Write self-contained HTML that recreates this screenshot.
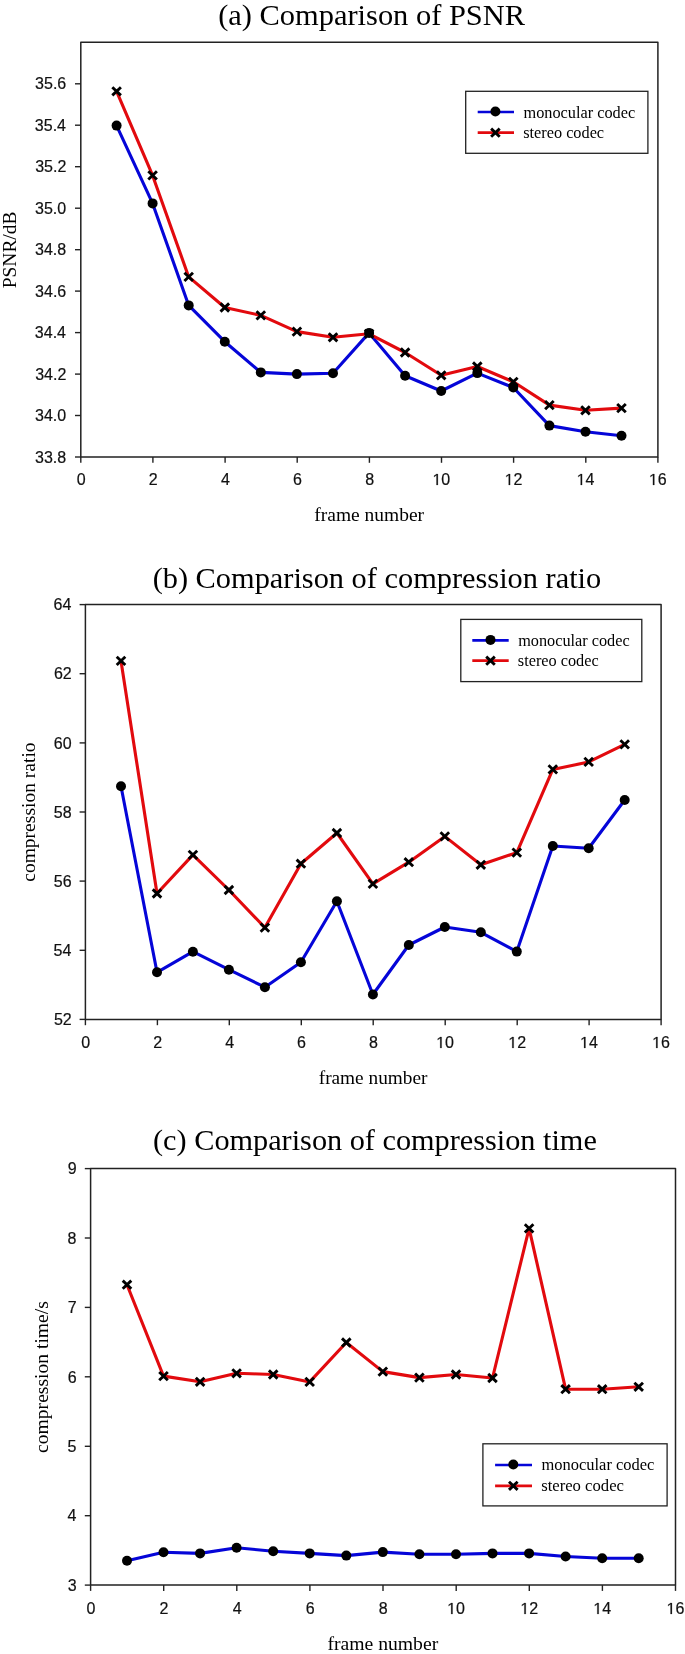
<!DOCTYPE html><html><head><meta charset="utf-8"><title>Comparison charts</title><style>html,body{margin:0;padding:0;background:#fff;}svg{display:block;filter:blur(0.35px);}.t{font-family:"Liberation Sans",sans-serif;font-size:16px;fill:#111;stroke:#111;stroke-width:0.2px;}.h{fill:none;stroke:none;}.s{font-family:"Liberation Serif",serif;fill:#000;}</style></head><body>
<svg width="685" height="1654" viewBox="0 0 685 1654">
<rect width="685" height="1654" fill="#fff"/>
<rect x="80.8" y="42.3" width="577.1" height="414.7" fill="none" stroke="#222" stroke-width="1.5" stroke-linejoin="round"/>
<g>
<line x1="80.8" y1="457" x2="80.8" y2="462.8" stroke="#222" stroke-width="1.4"/>
<text class="t" x="76.66" y="485.00">0</text>
<line x1="152.9" y1="457" x2="152.9" y2="462.8" stroke="#222" stroke-width="1.4"/>
<text class="t" x="148.80" y="485.00">2</text>
<line x1="225.1" y1="457" x2="225.1" y2="462.8" stroke="#222" stroke-width="1.4"/>
<text class="t" x="220.97" y="485.00">4</text>
<line x1="297.2" y1="457" x2="297.2" y2="462.8" stroke="#222" stroke-width="1.4"/>
<text class="t" x="293.03" y="485.00">6</text>
<line x1="369.4" y1="457" x2="369.4" y2="462.8" stroke="#222" stroke-width="1.4"/>
<text class="t" x="365.17" y="485.00">8</text>
<line x1="441.5" y1="457" x2="441.5" y2="462.8" stroke="#222" stroke-width="1.4"/>
<text class="t" x="432.46" y="485.00"><tspan class="h">1</tspan>0</text><path transform="translate(432.46,485.00) scale(0.007812,-0.007812)" d="M515 0V1237L197 1010V1180L530 1409H696V0Z" fill="#111" stroke="#111" stroke-width="25.6"/>
<line x1="513.6" y1="457" x2="513.6" y2="462.8" stroke="#222" stroke-width="1.4"/>
<text class="t" x="504.68" y="485.00"><tspan class="h">1</tspan>2</text><path transform="translate(504.68,485.00) scale(0.007812,-0.007812)" d="M515 0V1237L197 1010V1180L530 1409H696V0Z" fill="#111" stroke="#111" stroke-width="25.6"/>
<line x1="585.8" y1="457" x2="585.8" y2="462.8" stroke="#222" stroke-width="1.4"/>
<text class="t" x="576.65" y="485.00"><tspan class="h">1</tspan>4</text><path transform="translate(576.65,485.00) scale(0.007812,-0.007812)" d="M515 0V1237L197 1010V1180L530 1409H696V0Z" fill="#111" stroke="#111" stroke-width="25.6"/>
<line x1="657.9" y1="457" x2="657.9" y2="462.8" stroke="#222" stroke-width="1.4"/>
<text class="t" x="648.91" y="485.00"><tspan class="h">1</tspan>6</text><path transform="translate(648.91,485.00) scale(0.007812,-0.007812)" d="M515 0V1237L197 1010V1180L530 1409H696V0Z" fill="#111" stroke="#111" stroke-width="25.6"/>
<line x1="75.0" y1="457.0" x2="80.8" y2="457.0" stroke="#222" stroke-width="1.4"/>
<text class="t" x="35.02" y="463.00">33.8</text>
<line x1="75.0" y1="415.5" x2="80.8" y2="415.5" stroke="#222" stroke-width="1.4"/>
<text class="t" x="35.02" y="421.00">34.0</text>
<line x1="75.0" y1="374.1" x2="80.8" y2="374.1" stroke="#222" stroke-width="1.4"/>
<text class="t" x="35.18" y="380.00">34.2</text>
<line x1="75.0" y1="332.6" x2="80.8" y2="332.6" stroke="#222" stroke-width="1.4"/>
<text class="t" x="34.86" y="338.00">34.4</text>
<line x1="75.0" y1="291.1" x2="80.8" y2="291.1" stroke="#222" stroke-width="1.4"/>
<text class="t" x="35.10" y="297.00">34.6</text>
<line x1="75.0" y1="249.7" x2="80.8" y2="249.7" stroke="#222" stroke-width="1.4"/>
<text class="t" x="35.02" y="255.00">34.8</text>
<line x1="75.0" y1="208.2" x2="80.8" y2="208.2" stroke="#222" stroke-width="1.4"/>
<text class="t" x="35.02" y="214.00">35.0</text>
<line x1="75.0" y1="166.7" x2="80.8" y2="166.7" stroke="#222" stroke-width="1.4"/>
<text class="t" x="35.18" y="172.00">35.2</text>
<line x1="75.0" y1="125.2" x2="80.8" y2="125.2" stroke="#222" stroke-width="1.4"/>
<text class="t" x="34.86" y="131.00">35.4</text>
<line x1="75.0" y1="83.8" x2="80.8" y2="83.8" stroke="#222" stroke-width="1.4"/>
<text class="t" x="35.10" y="89.00">35.6</text>
</g><g>
<text class="s" x="218.13" y="25.00" font-size="30.44">(a) Comparison of PSNR</text>
<text class="s" transform="translate(16.20,288.28) rotate(-90)" font-size="19.46">PSNR/dB</text>
<text class="s" x="314.32" y="521.20" font-size="19.48">frame number</text>
</g>
<polyline points="116.6,125.6 152.6,203.4 188.7,305.4 224.8,341.7 260.8,372.4 296.9,374.1 333.0,373.2 369.1,332.9 405.1,375.7 441.2,391.0 477.3,373.1 513.3,387.5 549.4,425.6 585.5,431.8 621.5,435.7" fill="none" stroke="#0505d8" stroke-width="3.1" stroke-linejoin="round"/>
<polyline points="116.6,91.3 152.6,175.4 188.7,276.9 224.8,307.5 260.8,315.4 296.9,331.6 333.0,337.3 369.1,333.8 405.1,352.5 441.2,375.3 477.3,366.5 513.3,381.8 549.4,405.1 585.5,410.3 621.5,408.1" fill="none" stroke="#e20a0e" stroke-width="3.1" stroke-linejoin="round"/>
<circle cx="116.6" cy="125.6" r="5" fill="#000"/>
<circle cx="152.6" cy="203.4" r="5" fill="#000"/>
<circle cx="188.7" cy="305.4" r="5" fill="#000"/>
<circle cx="224.8" cy="341.7" r="5" fill="#000"/>
<circle cx="260.8" cy="372.4" r="5" fill="#000"/>
<circle cx="296.9" cy="374.1" r="5" fill="#000"/>
<circle cx="333.0" cy="373.2" r="5" fill="#000"/>
<circle cx="369.1" cy="332.9" r="5" fill="#000"/>
<circle cx="405.1" cy="375.7" r="5" fill="#000"/>
<circle cx="441.2" cy="391.0" r="5" fill="#000"/>
<circle cx="477.3" cy="373.1" r="5" fill="#000"/>
<circle cx="513.3" cy="387.5" r="5" fill="#000"/>
<circle cx="549.4" cy="425.6" r="5" fill="#000"/>
<circle cx="585.5" cy="431.8" r="5" fill="#000"/>
<circle cx="621.5" cy="435.7" r="5" fill="#000"/>
<path d="M112.3,87.2L120.9,95.4M112.3,95.4L120.9,87.2" stroke="#000" stroke-width="2.9" fill="none"/>
<path d="M148.3,171.3L156.9,179.5M148.3,179.5L156.9,171.3" stroke="#000" stroke-width="2.9" fill="none"/>
<path d="M184.4,272.8L193.0,281.0M184.4,281.0L193.0,272.8" stroke="#000" stroke-width="2.9" fill="none"/>
<path d="M220.5,303.4L229.1,311.6M220.5,311.6L229.1,303.4" stroke="#000" stroke-width="2.9" fill="none"/>
<path d="M256.5,311.3L265.1,319.5M256.5,319.5L265.1,311.3" stroke="#000" stroke-width="2.9" fill="none"/>
<path d="M292.6,327.5L301.2,335.7M292.6,335.7L301.2,327.5" stroke="#000" stroke-width="2.9" fill="none"/>
<path d="M328.7,333.2L337.3,341.4M328.7,341.4L337.3,333.2" stroke="#000" stroke-width="2.9" fill="none"/>
<path d="M364.8,329.7L373.4,337.9M364.8,337.9L373.4,329.7" stroke="#000" stroke-width="2.9" fill="none"/>
<path d="M400.8,348.4L409.4,356.6M400.8,356.6L409.4,348.4" stroke="#000" stroke-width="2.9" fill="none"/>
<path d="M436.9,371.2L445.5,379.4M436.9,379.4L445.5,371.2" stroke="#000" stroke-width="2.9" fill="none"/>
<path d="M473.0,362.4L481.6,370.6M473.0,370.6L481.6,362.4" stroke="#000" stroke-width="2.9" fill="none"/>
<path d="M509.0,377.7L517.6,385.9M509.0,385.9L517.6,377.7" stroke="#000" stroke-width="2.9" fill="none"/>
<path d="M545.1,401.0L553.7,409.2M545.1,409.2L553.7,401.0" stroke="#000" stroke-width="2.9" fill="none"/>
<path d="M581.2,406.2L589.8,414.4M581.2,414.4L589.8,406.2" stroke="#000" stroke-width="2.9" fill="none"/>
<path d="M617.2,404.0L625.8,412.2M617.2,412.2L625.8,404.0" stroke="#000" stroke-width="2.9" fill="none"/>
<rect x="465.7" y="91.3" width="182.2" height="62.0" fill="#fff" stroke="#222" stroke-width="1.3"/>
<line x1="477.7" y1="112" x2="514" y2="112" stroke="#0505d8" stroke-width="2.7"/>
<circle cx="495.4" cy="111.5" r="5" fill="#000"/>
<line x1="477.7" y1="132.7" x2="514" y2="132.7" stroke="#e20a0e" stroke-width="2.7"/>
<path d="M491.1,128.6L499.7,136.8M491.1,136.8L499.7,128.6" stroke="#000" stroke-width="2.9" fill="none"/>
<g><text class="s" x="523.52" y="117.50" font-size="16.29">monocular codec</text><text class="s" x="523.20" y="138.20" font-size="16.30">stereo codec</text></g>
<rect x="85.4" y="604.6" width="575.7" height="414.8" fill="none" stroke="#222" stroke-width="1.5" stroke-linejoin="round"/>
<g>
<line x1="85.4" y1="1019.4" x2="85.4" y2="1025.2" stroke="#222" stroke-width="1.4"/>
<text class="t" x="81.26" y="1048.00">0</text>
<line x1="157.4" y1="1019.4" x2="157.4" y2="1025.2" stroke="#222" stroke-width="1.4"/>
<text class="t" x="153.22" y="1048.00">2</text>
<line x1="229.3" y1="1019.4" x2="229.3" y2="1025.2" stroke="#222" stroke-width="1.4"/>
<text class="t" x="225.23" y="1048.00">4</text>
<line x1="301.3" y1="1019.4" x2="301.3" y2="1025.2" stroke="#222" stroke-width="1.4"/>
<text class="t" x="297.11" y="1048.00">6</text>
<line x1="373.2" y1="1019.4" x2="373.2" y2="1025.2" stroke="#222" stroke-width="1.4"/>
<text class="t" x="369.07" y="1048.00">8</text>
<line x1="445.2" y1="1019.4" x2="445.2" y2="1025.2" stroke="#222" stroke-width="1.4"/>
<text class="t" x="436.18" y="1048.00"><tspan class="h">1</tspan>0</text><path transform="translate(436.18,1048.00) scale(0.007812,-0.007812)" d="M515 0V1237L197 1010V1180L530 1409H696V0Z" fill="#111" stroke="#111" stroke-width="25.6"/>
<line x1="517.2" y1="1019.4" x2="517.2" y2="1025.2" stroke="#222" stroke-width="1.4"/>
<text class="t" x="508.23" y="1048.00"><tspan class="h">1</tspan>2</text><path transform="translate(508.23,1048.00) scale(0.007812,-0.007812)" d="M515 0V1237L197 1010V1180L530 1409H696V0Z" fill="#111" stroke="#111" stroke-width="25.6"/>
<line x1="589.1" y1="1019.4" x2="589.1" y2="1025.2" stroke="#222" stroke-width="1.4"/>
<text class="t" x="580.03" y="1048.00"><tspan class="h">1</tspan>4</text><path transform="translate(580.03,1048.00) scale(0.007812,-0.007812)" d="M515 0V1237L197 1010V1180L530 1409H696V0Z" fill="#111" stroke="#111" stroke-width="25.6"/>
<line x1="661.1" y1="1019.4" x2="661.1" y2="1025.2" stroke="#222" stroke-width="1.4"/>
<text class="t" x="652.11" y="1048.00"><tspan class="h">1</tspan>6</text><path transform="translate(652.11,1048.00) scale(0.007812,-0.007812)" d="M515 0V1237L197 1010V1180L530 1409H696V0Z" fill="#111" stroke="#111" stroke-width="25.6"/>
<line x1="79.6" y1="1019.4" x2="85.4" y2="1019.4" stroke="#222" stroke-width="1.4"/>
<text class="t" x="53.94" y="1025.00">52</text>
<line x1="79.6" y1="950.3" x2="85.4" y2="950.3" stroke="#222" stroke-width="1.4"/>
<text class="t" x="53.62" y="956.00">54</text>
<line x1="79.6" y1="881.1" x2="85.4" y2="881.1" stroke="#222" stroke-width="1.4"/>
<text class="t" x="53.86" y="887.00">56</text>
<line x1="79.6" y1="812.0" x2="85.4" y2="812.0" stroke="#222" stroke-width="1.4"/>
<text class="t" x="53.78" y="818.00">58</text>
<line x1="79.6" y1="742.9" x2="85.4" y2="742.9" stroke="#222" stroke-width="1.4"/>
<text class="t" x="53.78" y="749.00">60</text>
<line x1="79.6" y1="673.7" x2="85.4" y2="673.7" stroke="#222" stroke-width="1.4"/>
<text class="t" x="53.94" y="679.00">62</text>
<line x1="79.6" y1="604.6" x2="85.4" y2="604.6" stroke="#222" stroke-width="1.4"/>
<text class="t" x="53.62" y="610.00">64</text>
</g><g>
<text class="s" x="152.63" y="588.00" font-size="30.37">(b) Comparison of compression ratio</text>
<text class="s" transform="translate(34.80,881.78) rotate(-90)" font-size="19.55">compression ratio</text>
<text class="s" x="318.72" y="1083.60" font-size="19.30">frame number</text>
</g>
<polyline points="121.0,786.2 157.0,972.3 192.9,951.7 228.9,969.7 264.9,987.2 300.9,962.2 336.9,901.3 372.9,994.5 408.8,945.0 444.8,927.0 480.8,932.3 516.8,951.6 552.8,846.0 588.7,848.2 624.7,800.0" fill="none" stroke="#0505d8" stroke-width="3.1" stroke-linejoin="round"/>
<polyline points="121.0,660.9 157.0,893.5 192.9,854.9 228.9,890.0 264.9,927.6 300.9,863.7 336.9,833.0 372.9,883.9 408.8,862.2 444.8,836.4 480.8,864.8 516.8,852.6 552.8,769.4 588.7,761.9 624.7,744.4" fill="none" stroke="#e20a0e" stroke-width="3.1" stroke-linejoin="round"/>
<circle cx="121.0" cy="786.2" r="5" fill="#000"/>
<circle cx="157.0" cy="972.3" r="5" fill="#000"/>
<circle cx="192.9" cy="951.7" r="5" fill="#000"/>
<circle cx="228.9" cy="969.7" r="5" fill="#000"/>
<circle cx="264.9" cy="987.2" r="5" fill="#000"/>
<circle cx="300.9" cy="962.2" r="5" fill="#000"/>
<circle cx="336.9" cy="901.3" r="5" fill="#000"/>
<circle cx="372.9" cy="994.5" r="5" fill="#000"/>
<circle cx="408.8" cy="945.0" r="5" fill="#000"/>
<circle cx="444.8" cy="927.0" r="5" fill="#000"/>
<circle cx="480.8" cy="932.3" r="5" fill="#000"/>
<circle cx="516.8" cy="951.6" r="5" fill="#000"/>
<circle cx="552.8" cy="846.0" r="5" fill="#000"/>
<circle cx="588.7" cy="848.2" r="5" fill="#000"/>
<circle cx="624.7" cy="800.0" r="5" fill="#000"/>
<path d="M116.7,656.8L125.3,665.0M116.7,665.0L125.3,656.8" stroke="#000" stroke-width="2.9" fill="none"/>
<path d="M152.7,889.4L161.3,897.6M152.7,897.6L161.3,889.4" stroke="#000" stroke-width="2.9" fill="none"/>
<path d="M188.6,850.8L197.2,859.0M188.6,859.0L197.2,850.8" stroke="#000" stroke-width="2.9" fill="none"/>
<path d="M224.6,885.9L233.2,894.1M224.6,894.1L233.2,885.9" stroke="#000" stroke-width="2.9" fill="none"/>
<path d="M260.6,923.5L269.2,931.7M260.6,931.7L269.2,923.5" stroke="#000" stroke-width="2.9" fill="none"/>
<path d="M296.6,859.6L305.2,867.8M296.6,867.8L305.2,859.6" stroke="#000" stroke-width="2.9" fill="none"/>
<path d="M332.6,828.9L341.2,837.1M332.6,837.1L341.2,828.9" stroke="#000" stroke-width="2.9" fill="none"/>
<path d="M368.6,879.8L377.2,888.0M368.6,888.0L377.2,879.8" stroke="#000" stroke-width="2.9" fill="none"/>
<path d="M404.5,858.1L413.1,866.3M404.5,866.3L413.1,858.1" stroke="#000" stroke-width="2.9" fill="none"/>
<path d="M440.5,832.3L449.1,840.5M440.5,840.5L449.1,832.3" stroke="#000" stroke-width="2.9" fill="none"/>
<path d="M476.5,860.7L485.1,868.9M476.5,868.9L485.1,860.7" stroke="#000" stroke-width="2.9" fill="none"/>
<path d="M512.5,848.5L521.1,856.7M512.5,856.7L521.1,848.5" stroke="#000" stroke-width="2.9" fill="none"/>
<path d="M548.5,765.3L557.1,773.5M548.5,773.5L557.1,765.3" stroke="#000" stroke-width="2.9" fill="none"/>
<path d="M584.4,757.8L593.0,766.0M584.4,766.0L593.0,757.8" stroke="#000" stroke-width="2.9" fill="none"/>
<path d="M620.4,740.3L629.0,748.5M620.4,748.5L629.0,740.3" stroke="#000" stroke-width="2.9" fill="none"/>
<rect x="460.8" y="619.4" width="181.0" height="62.2" fill="#fff" stroke="#222" stroke-width="1.3"/>
<line x1="472.3" y1="640.4" x2="508.7" y2="640.4" stroke="#0505d8" stroke-width="2.7"/>
<circle cx="490.5" cy="639.9" r="5" fill="#000"/>
<line x1="472.3" y1="660.7" x2="508.7" y2="660.7" stroke="#e20a0e" stroke-width="2.7"/>
<path d="M486.2,656.6L494.8,664.8M486.2,664.8L494.8,656.6" stroke="#000" stroke-width="2.9" fill="none"/>
<g><text class="s" x="518.17" y="646.10" font-size="16.26">monocular codec</text><text class="s" x="517.85" y="665.90" font-size="16.27">stereo codec</text></g>
<rect x="90.6" y="1168.6" width="584.9" height="416.5" fill="none" stroke="#222" stroke-width="1.5" stroke-linejoin="round"/>
<g>
<line x1="90.6" y1="1585.1" x2="90.6" y2="1590.9" stroke="#222" stroke-width="1.4"/>
<text class="t" x="86.46" y="1614.00">0</text>
<line x1="163.7" y1="1585.1" x2="163.7" y2="1590.9" stroke="#222" stroke-width="1.4"/>
<text class="t" x="159.57" y="1614.00">2</text>
<line x1="236.8" y1="1585.1" x2="236.8" y2="1590.9" stroke="#222" stroke-width="1.4"/>
<text class="t" x="232.72" y="1614.00">4</text>
<line x1="309.9" y1="1585.1" x2="309.9" y2="1590.9" stroke="#222" stroke-width="1.4"/>
<text class="t" x="305.76" y="1614.00">6</text>
<line x1="383.0" y1="1585.1" x2="383.0" y2="1590.9" stroke="#222" stroke-width="1.4"/>
<text class="t" x="378.87" y="1614.00">8</text>
<line x1="456.2" y1="1585.1" x2="456.2" y2="1590.9" stroke="#222" stroke-width="1.4"/>
<text class="t" x="447.13" y="1614.00"><tspan class="h">1</tspan>0</text><path transform="translate(447.13,1614.00) scale(0.007812,-0.007812)" d="M515 0V1237L197 1010V1180L530 1409H696V0Z" fill="#111" stroke="#111" stroke-width="25.6"/>
<line x1="529.3" y1="1585.1" x2="529.3" y2="1590.9" stroke="#222" stroke-width="1.4"/>
<text class="t" x="520.33" y="1614.00"><tspan class="h">1</tspan>2</text><path transform="translate(520.33,1614.00) scale(0.007812,-0.007812)" d="M515 0V1237L197 1010V1180L530 1409H696V0Z" fill="#111" stroke="#111" stroke-width="25.6"/>
<line x1="602.4" y1="1585.1" x2="602.4" y2="1590.9" stroke="#222" stroke-width="1.4"/>
<text class="t" x="593.28" y="1614.00"><tspan class="h">1</tspan>4</text><path transform="translate(593.28,1614.00) scale(0.007812,-0.007812)" d="M515 0V1237L197 1010V1180L530 1409H696V0Z" fill="#111" stroke="#111" stroke-width="25.6"/>
<line x1="675.5" y1="1585.1" x2="675.5" y2="1590.9" stroke="#222" stroke-width="1.4"/>
<text class="t" x="666.51" y="1614.00"><tspan class="h">1</tspan>6</text><path transform="translate(666.51,1614.00) scale(0.007812,-0.007812)" d="M515 0V1237L197 1010V1180L530 1409H696V0Z" fill="#111" stroke="#111" stroke-width="25.6"/>
<line x1="84.8" y1="1585.1" x2="90.6" y2="1585.1" stroke="#222" stroke-width="1.4"/>
<text class="t" x="67.64" y="1591.00">3</text>
<line x1="84.8" y1="1515.7" x2="90.6" y2="1515.7" stroke="#222" stroke-width="1.4"/>
<text class="t" x="67.40" y="1521.00">4</text>
<line x1="84.8" y1="1446.3" x2="90.6" y2="1446.3" stroke="#222" stroke-width="1.4"/>
<text class="t" x="67.56" y="1452.00">5</text>
<line x1="84.8" y1="1376.8" x2="90.6" y2="1376.8" stroke="#222" stroke-width="1.4"/>
<text class="t" x="67.64" y="1383.00">6</text>
<line x1="84.8" y1="1307.4" x2="90.6" y2="1307.4" stroke="#222" stroke-width="1.4"/>
<text class="t" x="67.72" y="1313.00">7</text>
<line x1="84.8" y1="1238.0" x2="90.6" y2="1238.0" stroke="#222" stroke-width="1.4"/>
<text class="t" x="67.56" y="1244.00">8</text>
<line x1="84.8" y1="1168.6" x2="90.6" y2="1168.6" stroke="#222" stroke-width="1.4"/>
<text class="t" x="67.64" y="1174.00">9</text>
</g><g>
<text class="s" x="153.04" y="1150.00" font-size="30.28">(c) Comparison of compression time</text>
<text class="s" transform="translate(48.00,1452.88) rotate(-90)" font-size="19.58">compression time/s</text>
<text class="s" x="327.41" y="1649.60" font-size="19.66">frame number</text>
</g>
<polyline points="127.0,1560.8 163.5,1552.2 200.1,1553.4 236.6,1547.8 273.2,1551.2 309.7,1553.4 346.3,1555.6 382.8,1552.1 419.4,1554.3 456.0,1554.3 492.5,1553.4 529.1,1553.4 565.6,1556.5 602.2,1558.2 638.7,1558.2" fill="none" stroke="#0505d8" stroke-width="3.1" stroke-linejoin="round"/>
<polyline points="127.0,1284.7 163.5,1376.1 200.1,1381.8 236.6,1373.3 273.2,1374.5 309.7,1381.9 346.3,1342.5 382.8,1371.6 419.4,1377.6 456.0,1374.5 492.5,1378.0 529.1,1228.4 565.6,1389.2 602.2,1389.2 638.7,1386.8" fill="none" stroke="#e20a0e" stroke-width="3.1" stroke-linejoin="round"/>
<circle cx="127.0" cy="1560.8" r="5" fill="#000"/>
<circle cx="163.5" cy="1552.2" r="5" fill="#000"/>
<circle cx="200.1" cy="1553.4" r="5" fill="#000"/>
<circle cx="236.6" cy="1547.8" r="5" fill="#000"/>
<circle cx="273.2" cy="1551.2" r="5" fill="#000"/>
<circle cx="309.7" cy="1553.4" r="5" fill="#000"/>
<circle cx="346.3" cy="1555.6" r="5" fill="#000"/>
<circle cx="382.8" cy="1552.1" r="5" fill="#000"/>
<circle cx="419.4" cy="1554.3" r="5" fill="#000"/>
<circle cx="456.0" cy="1554.3" r="5" fill="#000"/>
<circle cx="492.5" cy="1553.4" r="5" fill="#000"/>
<circle cx="529.1" cy="1553.4" r="5" fill="#000"/>
<circle cx="565.6" cy="1556.5" r="5" fill="#000"/>
<circle cx="602.2" cy="1558.2" r="5" fill="#000"/>
<circle cx="638.7" cy="1558.2" r="5" fill="#000"/>
<path d="M122.7,1280.6L131.3,1288.8M122.7,1288.8L131.3,1280.6" stroke="#000" stroke-width="2.9" fill="none"/>
<path d="M159.2,1372.0L167.8,1380.2M159.2,1380.2L167.8,1372.0" stroke="#000" stroke-width="2.9" fill="none"/>
<path d="M195.8,1377.7L204.4,1385.9M195.8,1385.9L204.4,1377.7" stroke="#000" stroke-width="2.9" fill="none"/>
<path d="M232.3,1369.2L240.9,1377.4M232.3,1377.4L240.9,1369.2" stroke="#000" stroke-width="2.9" fill="none"/>
<path d="M268.9,1370.4L277.5,1378.6M268.9,1378.6L277.5,1370.4" stroke="#000" stroke-width="2.9" fill="none"/>
<path d="M305.4,1377.8L314.0,1386.0M305.4,1386.0L314.0,1377.8" stroke="#000" stroke-width="2.9" fill="none"/>
<path d="M342.0,1338.4L350.6,1346.6M342.0,1346.6L350.6,1338.4" stroke="#000" stroke-width="2.9" fill="none"/>
<path d="M378.5,1367.5L387.1,1375.7M378.5,1375.7L387.1,1367.5" stroke="#000" stroke-width="2.9" fill="none"/>
<path d="M415.1,1373.5L423.7,1381.7M415.1,1381.7L423.7,1373.5" stroke="#000" stroke-width="2.9" fill="none"/>
<path d="M451.7,1370.4L460.3,1378.6M451.7,1378.6L460.3,1370.4" stroke="#000" stroke-width="2.9" fill="none"/>
<path d="M488.2,1373.9L496.8,1382.1M488.2,1382.1L496.8,1373.9" stroke="#000" stroke-width="2.9" fill="none"/>
<path d="M524.8,1224.3L533.4,1232.5M524.8,1232.5L533.4,1224.3" stroke="#000" stroke-width="2.9" fill="none"/>
<path d="M561.3,1385.1L569.9,1393.3M561.3,1393.3L569.9,1385.1" stroke="#000" stroke-width="2.9" fill="none"/>
<path d="M597.9,1385.1L606.5,1393.3M597.9,1393.3L606.5,1385.1" stroke="#000" stroke-width="2.9" fill="none"/>
<path d="M634.4,1382.7L643.0,1390.9M634.4,1390.9L643.0,1382.7" stroke="#000" stroke-width="2.9" fill="none"/>
<rect x="482.9" y="1443.8" width="184.2" height="62.1" fill="#fff" stroke="#222" stroke-width="1.3"/>
<line x1="495.1" y1="1465" x2="532" y2="1465" stroke="#0505d8" stroke-width="2.7"/>
<circle cx="513.3" cy="1464.5" r="5" fill="#000"/>
<line x1="495.1" y1="1485.8" x2="532" y2="1485.8" stroke="#e20a0e" stroke-width="2.7"/>
<path d="M509.0,1481.7L517.6,1489.9M509.0,1489.9L517.6,1481.7" stroke="#000" stroke-width="2.9" fill="none"/>
<g><text class="s" x="541.52" y="1470.20" font-size="16.47">monocular codec</text><text class="s" x="541.18" y="1490.50" font-size="16.66">stereo codec</text></g>
</svg></body></html>
